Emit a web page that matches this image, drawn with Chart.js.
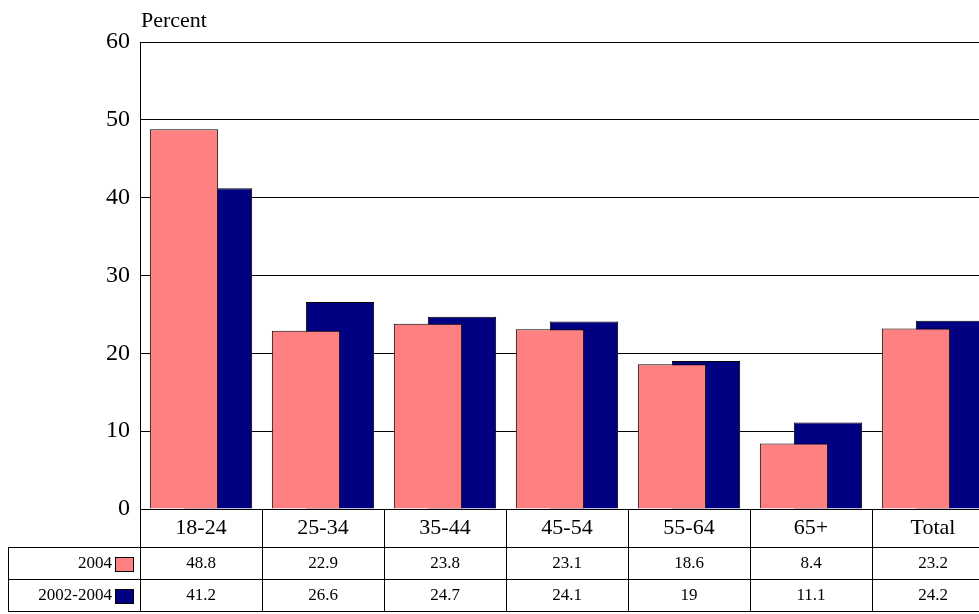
<!DOCTYPE html>
<html><head><script src="https://cdn.jsdelivr.net/npm/chart.js@4"></script>
<style>html,body{margin:0;padding:0;overflow:hidden;background:#fff}#w{width:1000px;height:614px}</style></head>
<body><div id="w"><canvas id="c"></canvas></div>
<script>
const categories=["18-24","25-34","35-44","45-54","55-64","65+","Total"];
const s2004=[48.8,22.9,23.8,23.1,18.6,8.4,23.2];
const s0204=[41.2,26.6,24.7,24.1,19,11.1,24.2];
const seriesNames=["2004","2002-2004"];
const colors=["#FF8080","#000080"];
const F="'Liberation Serif', 'Times New Roman', serif";
const shift={id:'shift',afterDatasetsUpdate(ch){
  ch.getDatasetMeta(0).data.forEach(e=>e.x-=17);
  ch.getDatasetMeta(1).data.forEach(e=>e.x+=17);
}};
const table={id:'table',afterDraw(ch){
  const c=ch.ctx,a=ch.chartArea,x=ch.scales.x;
  c.save();c.strokeStyle='#000';c.lineWidth=1;
  c.strokeRect(a.left+0.5,a.top+0.5,a.right-a.left,a.bottom-a.top);
  const step=(a.right-a.left)/categories.length;
  const rows=[a.bottom,548,580,612];
  c.beginPath();
  for(let i=0;i<=categories.length;i++){const px=Math.round(a.left+i*step)+0.5;c.moveTo(px,a.bottom);c.lineTo(px,612);}
  c.moveTo(8.5,548);c.lineTo(8.5,612);
  [548,580,612].forEach(y=>{c.moveTo(8,y-0.5);c.lineTo(a.right,y-0.5);});
  c.stroke();
  c.fillStyle='#000';c.textAlign='center';c.textBaseline='middle';
  c.font='22px '+F;
  categories.forEach((t,i)=>c.fillText(t,x.getPixelForValue(i),(a.bottom+548)/2));
  c.font='17px '+F;
  [s2004,s0204].forEach((arr,r)=>{
    const yc=(rows[r+1]+rows[r+2])/2;
    arr.forEach((v,i)=>{c.textAlign='center';c.fillText(String(v),x.getPixelForValue(i),yc);});
    c.textAlign='right';c.fillText(seriesNames[r],112,yc);
    c.fillStyle=colors[r];c.fillRect(115,yc-7,18,14);c.strokeRect(115.5,yc-6.5,18,14);c.fillStyle='#000';
  });
  c.font='22px '+F;c.textAlign='left';c.textBaseline='alphabetic';c.fillText('Percent',141,27);
  c.restore();
}};
new Chart(document.getElementById('c'),{type:'bar',
data:{labels:categories,datasets:[
 {label:seriesNames[0],data:s2004,backgroundColor:colors[0],borderColor:'#000',borderWidth:1,grouped:false,categoryPercentage:1,barPercentage:0.56},
 {label:seriesNames[1],data:s0204,backgroundColor:colors[1],borderColor:'#000',borderWidth:1,grouped:false,categoryPercentage:1,barPercentage:0.56}]},
options:{responsive:true,maintainAspectRatio:false,animation:false,devicePixelRatio:1,
 layout:{padding:{left:0,top:42,right:6,bottom:97}},
 plugins:{legend:{display:false},tooltip:{enabled:false}},
 scales:{x:{ticks:{display:false},grid:{display:false},border:{display:false}},
  y:{min:0,max:60,ticks:{stepSize:10,color:'#000',font:{family:F,size:24},padding:10},
   grid:{color:'#000',drawTicks:false},border:{display:false},afterFit(s){s.width=140;}}}},
plugins:[shift,table]});
</script></body></html>
